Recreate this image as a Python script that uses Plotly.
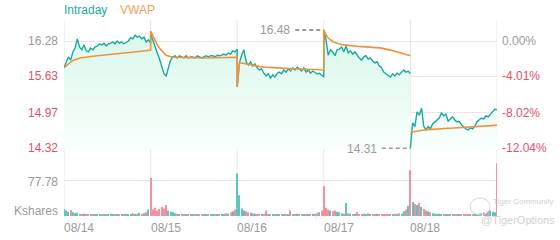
import plotly.graph_objects as go

# ---------------- data ----------------
days = ["08/14", "08/15", "08/16", "08/17", "08/18"]
minutes = list(range(0, 391, 10))  # sample times (minutes after the open) in each session

intraday_0814 = [15.79, 15.90, 15.99, 15.93, 16.08, 16.15, 16.32, 16.17, 16.12, 16.21,
                 16.10, 16.08, 16.15, 16.12, 16.17, 16.19, 16.23, 16.21, 16.24, 16.19,
                 16.23, 16.24, 16.26, 16.23, 16.28, 16.24, 16.26, 16.23, 16.26, 16.28,
                 16.34, 16.32, 16.39, 16.35, 16.37, 16.32, 16.35, 16.26, 16.30, 16.24]
intraday_0815 = [16.41, 16.30, 16.19, 16.06, 15.95, 15.82, 15.68, 15.64, 15.77, 15.93,
                 15.99, 16.01, 15.97, 16.01, 15.99, 15.97, 16.01, 15.97, 15.99, 15.99,
                 15.97, 16.01, 15.99, 15.97, 15.99, 16.01, 15.99, 16.01, 16.01, 15.99,
                 16.02, 16.01, 16.02, 16.04, 16.02, 16.06, 16.04, 16.10, 16.08, 16.13]
intraday_0816 = [15.44, 15.88, 16.02, 16.12, 15.90, 15.84, 15.90, 15.82, 15.86, 15.79,
                 15.75, 15.77, 15.69, 15.64, 15.68, 15.60, 15.66, 15.62, 15.69, 15.71,
                 15.68, 15.75, 15.71, 15.77, 15.73, 15.79, 15.75, 15.80, 15.77, 15.73,
                 15.79, 15.71, 15.75, 15.69, 15.73, 15.71, 15.68, 15.69, 15.66, 15.62]
intraday_0817 = [16.48, 16.30, 16.02, 16.12, 16.08, 16.01, 16.12, 16.13, 16.17, 16.08,
                 16.19, 16.06, 16.10, 16.04, 16.08, 16.02, 15.97, 15.93, 15.99, 16.01,
                 15.95, 15.97, 15.91, 15.88, 15.90, 15.82, 15.79, 15.71, 15.68, 15.64,
                 15.62, 15.68, 15.64, 15.69, 15.66, 15.71, 15.75, 15.71, 15.73, 15.68]
intraday_0818 = [14.31, 14.78, 14.71, 14.98, 14.92, 15.05, 14.72, 14.65, 14.71, 14.67,
                 14.76, 14.80, 14.83, 14.87, 14.96, 14.91, 14.94, 14.81, 14.85, 14.89,
                 14.83, 14.80, 14.81, 14.74, 14.71, 14.67, 14.65, 14.69, 14.67, 14.72,
                 14.80, 14.83, 14.87, 14.85, 14.91, 14.89, 14.94, 14.98, 15.03, 15.02]

vwap_0814 = [15.785, 15.822, 15.868, 15.895, 15.923, 15.941, 15.956, 15.965, 15.972, 15.980,
             15.987, 15.991, 15.996, 16.000, 16.005, 16.009, 16.013, 16.016, 16.020, 16.022,
             16.024, 16.027, 16.031, 16.035, 16.038, 16.042, 16.046, 16.049, 16.053, 16.058,
             16.064, 16.069, 16.075, 16.078, 16.084, 16.089, 16.095, 16.100, 16.108, 16.115]
vwap_0815 = [16.46, 16.37, 16.28, 16.21, 16.15, 16.10, 16.06, 16.02, 16.005, 15.99,
             15.985, 15.982, 15.980, 15.978, 15.976, 15.975, 15.974, 15.973, 15.972, 15.972,
             15.971, 15.971, 15.970, 15.970, 15.970, 15.970, 15.970, 15.971, 15.971, 15.972,
             15.972, 15.973, 15.974, 15.975, 15.976, 15.977, 15.978, 15.979, 15.980, 15.982]
vwap_0816 = [15.437, 15.877, 15.877, 15.868, 15.859, 15.850, 15.840, 15.831, 15.822, 15.817,
             15.811, 15.806, 15.802, 15.798, 15.795, 15.793, 15.791, 15.789, 15.787, 15.785,
             15.784, 15.782, 15.780, 15.778, 15.776, 15.774, 15.773, 15.771, 15.769, 15.767,
             15.765, 15.763, 15.762, 15.760, 15.758, 15.756, 15.754, 15.752, 15.751, 15.749]
vwap_0817 = [16.48, 16.39, 16.335, 16.298, 16.271, 16.253, 16.238, 16.225, 16.216, 16.209,
             16.203, 16.198, 16.194, 16.190, 16.187, 16.183, 16.179, 16.177, 16.176, 16.174,
             16.172, 16.170, 16.166, 16.163, 16.159, 16.155, 16.150, 16.143, 16.133, 16.124,
             16.115, 16.104, 16.093, 16.082, 16.071, 16.060, 16.049, 16.036, 16.024, 16.011]
vwap_0818 = [14.585, 14.613, 14.622, 14.631, 14.639, 14.644, 14.650, 14.653, 14.657, 14.661,
             14.664, 14.668, 14.672, 14.673, 14.675, 14.677, 14.679, 14.681, 14.682, 14.684,
             14.686, 14.688, 14.690, 14.692, 14.693, 14.695, 14.697, 14.699, 14.701, 14.703,
             14.705, 14.708, 14.712, 14.715, 14.719, 14.723, 14.726, 14.730, 14.734, 14.737]

vol_0814 = [15, 12, 9, 13, 8, 6, 7, 5, 4, 5, 3, 4, 3, 4, 3, 3, 4, 3, 3, 4,
            3, 5, 3, 3, 4, 3, 3, 4, 5, 3, 4, 6, 4, 5, 7, 5, 6, 8, 14, 10]
vol_0815 = [72, 14, 18, 12, 15, 20, 16, 24, 12, 9, 8, 6, 5, 4, 5, 4, 3, 4, 3, 3,
            4, 3, 3, 4, 3, 3, 4, 3, 4, 3, 3, 4, 5, 4, 6, 5, 8, 10, 14, 16]
vol_0816 = [76, 45, 16, 12, 10, 8, 7, 6, 5, 4, 5, 4, 5, 12, 4, 3, 4, 3, 3, 4,
            3, 3, 4, 3, 12, 4, 3, 5, 3, 4, 3, 4, 3, 4, 5, 4, 6, 8, 12, 15]
vol_0817 = [50, 18, 14, 12, 10, 12, 9, 8, 6, 5, 28, 6, 5, 4, 5, 8, 4, 3, 5, 4,
            6, 3, 4, 3, 5, 4, 3, 4, 3, 4, 3, 4, 5, 4, 6, 5, 10, 14, 22, 28]
vol_0818 = [71, 30, 26, 24, 28, 20, 15, 12, 10, 8, 6, 5, 4, 5, 4, 3, 4, 3, 4, 3,
            3, 4, 3, 3, 4, 3, 4, 3, 4, 5, 4, 5, 6, 8, 6, 10, 12, 9, 8, 114]
open_bar_up = [True, False, True, False, False]

prev_close = 16.28
price_ticks = [16.28, 15.63, 14.97, 14.32]
price_tick_labels = ["16.28", "15.63", "14.97", "14.32"]
pct_tick_labels = ["0.00%", "-4.01%", "-8.02%", "-12.04%"]
vol_ticks = [77.78]
vol_tick_labels = ["77.78"]
vol_unit = "Kshares"
series_names = ["Intraday", "VWAP"]
watermark = ["Tiger Community", "@TigerOptions"]

# ---------------- styles ----------------
TEAL = "#17a89e"
ORANGE = "#f2913d"
UP = "#5cc6bc"
DOWN = "#f28fa0"
GRAY = "#999999"
RED = "#e0506c"
GRID = "#e6e6e6"
FONT = "Arial, 'Liberation Sans', sans-serif"
PRICE_RANGE = [14.301, 16.665]
VOL_RANGE = [0, 121]

intraday = [intraday_0814, intraday_0815, intraday_0816, intraday_0817, intraday_0818]
vwap = [vwap_0814, vwap_0815, vwap_0816, vwap_0817, vwap_0818]
volume = [vol_0814, vol_0815, vol_0816, vol_0817, vol_0818]

x_line, p_line, w_line = [], [], []
x_bar, v_bar, c_bar = [], [], []
for d in range(len(days)):
    xs = [d + m / 390 for m in minutes]
    if d == 4:  # gap between 08/17 and 08/18 sessions
        x_line.append(None); p_line.append(None); w_line.append(None)
    x_line += xs
    p_line += intraday[d]
    w_line += vwap[d]
    for i, v in enumerate(volume[d]):
        up = open_bar_up[d] if i == 0 else intraday[d][i] >= intraday[d][i - 1]
        x_bar.append(xs[i]); v_bar.append(v); c_bar.append(UP if up else DOWN)

fig = go.Figure()
fig.add_trace(go.Scatter(
    x=x_line, y=p_line, mode="lines", name=series_names[0],
    line=dict(color=TEAL, width=1.4),
    fill="tozeroy",
    fillgradient=dict(type="vertical", colorscale=[[0, "#fafefc"], [1, "#d8f8ea"]],
                      start=PRICE_RANGE[0], stop=16.45),
    xaxis="x", yaxis="y", hoverinfo="skip"))
fig.add_trace(go.Scatter(
    x=x_line, y=w_line, mode="lines", name=series_names[1],
    line=dict(color=ORANGE, width=1.6), xaxis="x", yaxis="y", hoverinfo="skip"))
fig.add_trace(go.Bar(
    x=x_bar, y=v_bar, marker=dict(color=c_bar, line=dict(width=0)),
    width=0.012, xaxis="x2", yaxis="y2", hoverinfo="skip"))

shapes = []
for d in range(len(days) + 1):
    shapes.append(dict(type="line", xref="x", yref="paper", x0=d, x1=d, y0=0, y1=1,
                       line=dict(color=GRID, width=1), layer="below"))

# max / min markers
all_prices = [(x, p) for x, p in zip(x_line, p_line) if p is not None]
xmax, pmax = max(all_prices, key=lambda t: t[1])
xmin, pmin = min(all_prices, key=lambda t: t[1])
DASH_LEN = 0.33
for xv, pv in [(xmax, pmax), (xmin, pmin)]:
    shapes.append(dict(type="line", xref="x", yref="y", x0=xv - DASH_LEN, x1=xv, y0=pv, y1=pv,
                       line=dict(color="#9a9a9a", width=2, dash="4px,3px")))

ann = []
for t, lab, pct in zip(price_ticks, price_tick_labels, pct_tick_labels):
    col = GRAY if t >= prev_close else RED
    ann.append(dict(x=0, xref="paper", y=t, yref="y", text=lab, showarrow=False,
                    xanchor="right", xshift=-4, font=dict(color=col, size=12, family=FONT)))
    ann.append(dict(x=1, xref="paper", y=t, yref="y", text=pct, showarrow=False,
                    xanchor="left", xshift=3, font=dict(color=col, size=12, family=FONT)))
for t, lab in zip(vol_ticks, vol_tick_labels):
    ann.append(dict(x=0, xref="paper", y=t, yref="y2", text=lab, showarrow=False,
                    xanchor="right", xshift=-4, yshift=-2, font=dict(color=GRAY, size=12, family=FONT)))
ann.append(dict(x=0, xref="paper", y=0, yref="y2", text=vol_unit, showarrow=False,
                xanchor="right", xshift=-4, yshift=5, font=dict(color=GRAY, size=12, family=FONT)))
for d, lab in enumerate(days):
    ann.append(dict(x=d, xref="x", y=0, yref="paper", text=lab, showarrow=False,
                    xanchor="left", yanchor="top", xshift=-2, yshift=-3,
                    font=dict(color=GRAY, size=12, family=FONT)))
for xv, pv in [(xmax, pmax), (xmin, pmin)]:
    ann.append(dict(x=xv - DASH_LEN, xref="x", y=pv, yref="y", text=f"{pv:.2f}", showarrow=False,
                    xanchor="right", xshift=-3, font=dict(color=GRAY, size=12, family=FONT)))
ann.append(dict(x=0, xref="paper", y=1, yref="paper", text=series_names[0], showarrow=False,
                xanchor="left", yanchor="bottom", xshift=-2, yshift=1,
                font=dict(color="#20aaa0", size=12, family=FONT)))
ann.append(dict(x=0.129, xref="paper", y=1, yref="paper", text=series_names[1], showarrow=False,
                xanchor="left", yanchor="bottom", xshift=-2, yshift=1,
                font=dict(color="#f0a060", size=12, family=FONT)))
# watermark
shapes.append(dict(type="circle", xref="paper", yref="paper", x0=0.938, x1=0.984, y0=0.005, y1=0.092,
                   line=dict(color="#d5d5d5", width=1)))
ann.append(dict(x=0.986, xref="paper", y=0.041, yref="paper", text=watermark[0], showarrow=False,
                xanchor="left", font=dict(color="#cfcfcf", size=8, family=FONT)))
ann.append(dict(x=0.958, xref="paper", y=-0.061, yref="paper", text=watermark[1], showarrow=False,
                xanchor="left", font=dict(color="#d0d0d0", size=11, family=FONT)))

fig.update_layout(
    width=560, height=240, margin=dict(l=64, r=63, t=20, b=24),
    plot_bgcolor="white", paper_bgcolor="white", showlegend=False,
    shapes=shapes, annotations=ann,
    xaxis=dict(domain=[0, 1], range=[0, 5], showgrid=False, showticklabels=False,
               zeroline=False, anchor="y"),
    xaxis2=dict(domain=[0, 1], range=[0, 5], showgrid=False, showticklabels=False,
                zeroline=False, anchor="y2", matches="x"),
    yaxis=dict(domain=[0.3418, 1], range=PRICE_RANGE, tickvals=price_ticks, showticklabels=False,
               gridcolor=GRID, zeroline=False),
    yaxis2=dict(domain=[0, 0.2857], range=VOL_RANGE, tickvals=vol_ticks, showticklabels=False,
                gridcolor=GRID, zeroline=False),
)
fig.write_html("out.html")
